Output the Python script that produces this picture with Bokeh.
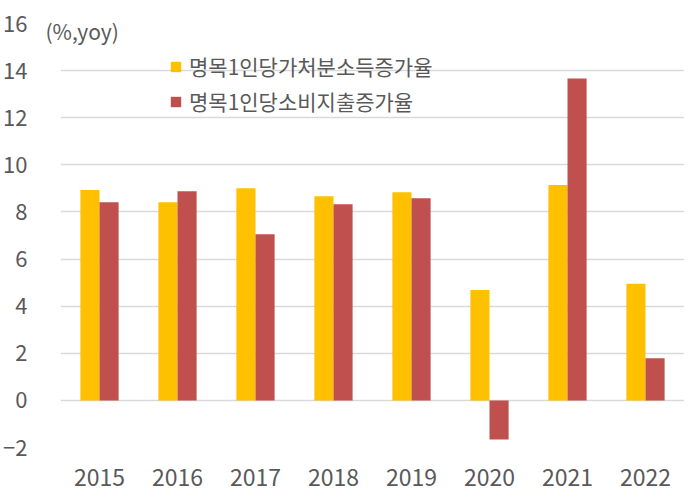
from bokeh.plotting import figure
from bokeh.models import ColumnDataSource, FactorRange, Range1d, FixedTicker, Legend, LegendItem, Title
from bokeh.transform import dodge
from bokeh.embed import file_html
from bokeh.resources import INLINE

years = ["2015", "2016", "2017", "2018", "2019", "2020", "2021", "2022"]
income = [8.93, 8.41, 9.01, 8.67, 8.84, 4.69, 9.14, 4.95]
spend = [8.41, 8.88, 7.05, 8.33, 8.58, -1.66, 13.67, 1.79]
y_ticks = [-2, 0, 2, 4, 6, 8, 10, 12, 14, 16]
name_income = "명목1인당가처분소득증가율"
name_spend = "명목1인당소비지출증가율"
unit_label = "(%,yoy)"

FONT = "Noto Sans CJK KR"
TXT = "#595959"

src = ColumnDataSource(dict(year=years, income=income, spend=spend))

p = figure(width=684, height=498, x_range=FactorRange(*years, range_padding=0),
           y_range=Range1d(-2, 16), output_backend="svg", toolbar_location=None,
           min_border_left=58, min_border_top=23, min_border_bottom=51, min_border_right=0)
p.outline_line_color = None
p.background_fill_color = "white"

w = 0.245
r1 = p.vbar(x=dodge("year", -w / 2, range=p.x_range), top="income", bottom=0, width=w,
            source=src, fill_color="#FFC000", line_color=None)
r2 = p.vbar(x=dodge("year", w / 2, range=p.x_range), top="spend", bottom=0, width=w,
            source=src, fill_color="#C0504D", line_color=None)

p.xgrid.grid_line_color = None
p.ygrid.grid_line_color = "#D9D9D9"
p.ygrid.grid_line_width = 1.5
p.yaxis.ticker = FixedTicker(ticks=y_ticks)

for ax in (p.xaxis[0], p.yaxis[0]):
    ax.axis_line_color = None
    ax.major_tick_line_color = None
    ax.minor_tick_line_color = None
    ax.major_label_text_font = FONT
    ax.major_label_text_color = TXT
p.yaxis.major_label_text_font_size = "22px"
p.xaxis.major_label_text_font_size = "23px"
p.yaxis.major_label_standoff = 27
p.xaxis.major_label_standoff = 15

legend = Legend(items=[LegendItem(label=name_income, renderers=[r1]),
                       LegendItem(label=name_spend, renderers=[r2])],
                location=(109, 331), padding=0, margin=0, spacing=5,
                glyph_width=13, glyph_height=13, label_standoff=7,
                label_text_font=FONT, label_text_font_size="21px", label_text_color=TXT,
                background_fill_alpha=0, border_line_color=None)
p.add_layout(legend)

unit = Title(text=unit_label, align="left", vertical_align="bottom", offset=-15, standoff=-44,
             text_font=FONT, text_font_size="21px", text_font_style="normal",
             text_color=TXT)
p.add_layout(unit, "above")

open("out.html", "w").write(file_html(p, INLINE))
